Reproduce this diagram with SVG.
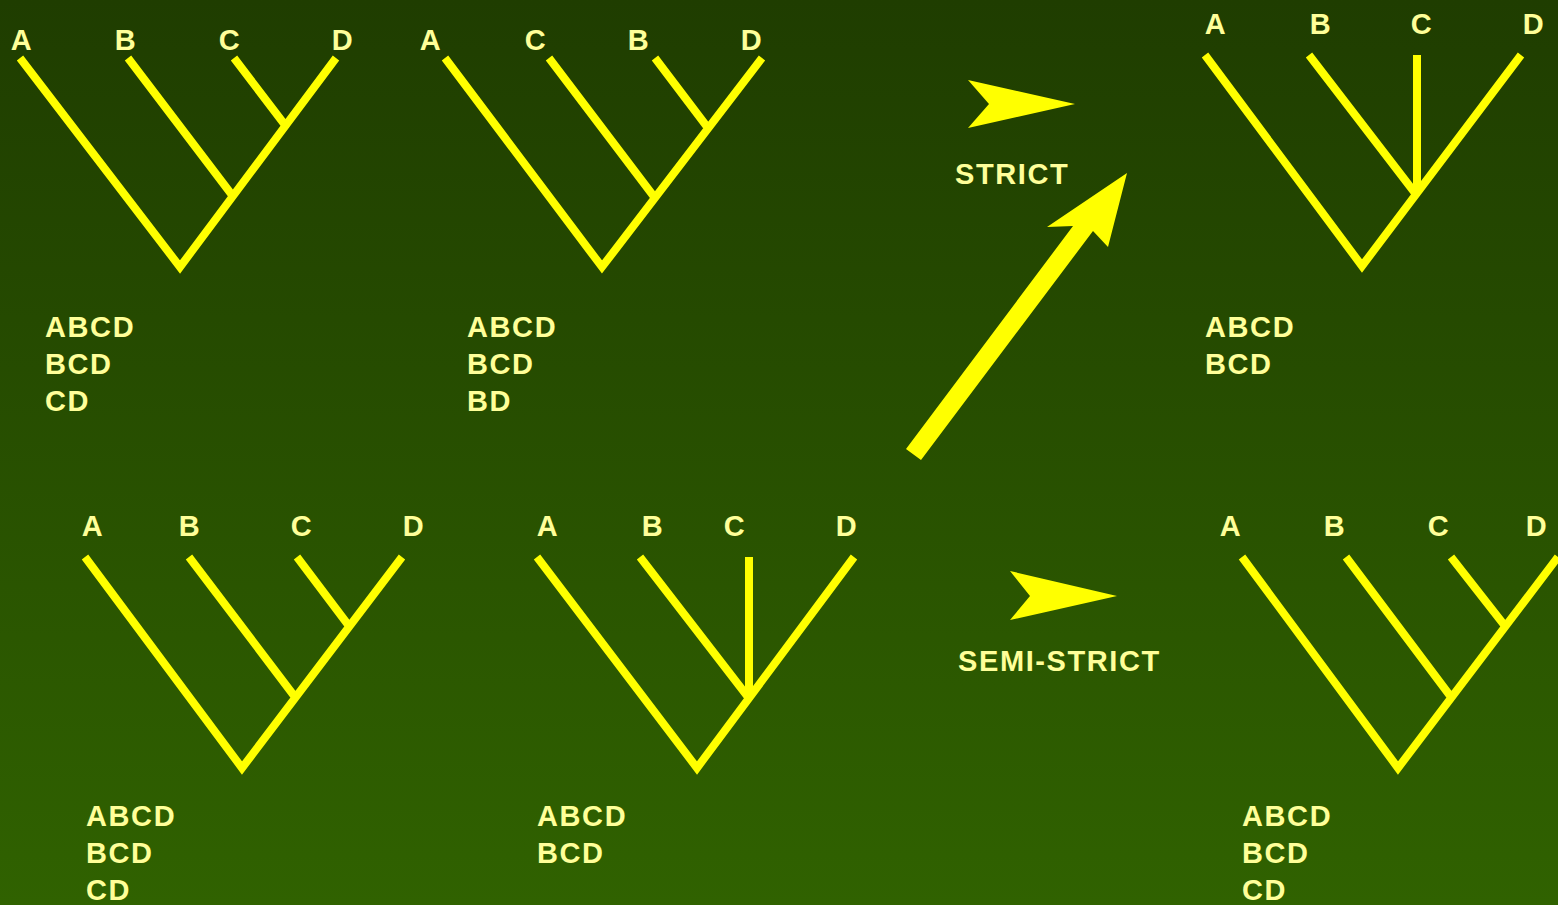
<svg xmlns="http://www.w3.org/2000/svg" width="1558" height="905" viewBox="0 0 1558 905">
  <defs>
    <linearGradient id="bg" x1="0" y1="0" x2="0" y2="1">
      <stop offset="0" stop-color="#1f3d00"/>
      <stop offset="1" stop-color="#306200"/>
    </linearGradient>
    <style>
      .br { stroke: #ffff00; stroke-width: 8; fill: none; stroke-linecap: butt; }
      .lbl { font-family: "Liberation Sans", Arial, sans-serif; font-weight: bold; font-size: 29px; letter-spacing: 1.6px; fill: #ffff99; }
      .tip { text-anchor: middle; }
      .arw { fill: #ffff00; }
    </style>
  </defs>
  <rect width="1558" height="905" fill="url(#bg)"/>

  <!-- Tree 1: ((A,(B,(C,D)))) -->
  <g id="tree1">
    <g class="lbl tip">
      <text x="22" y="50">A</text><text x="126" y="50">B</text><text x="230" y="50">C</text><text x="343" y="50">D</text>
    </g>
    <path class="br" d="M20 58 L180 267 L336 58 M128 58 L232 195 M234 58 L285 125"/>
    <g class="lbl">
      <text x="45" y="337">ABCD</text><text x="45" y="374">BCD</text><text x="45" y="411">CD</text>
    </g>
  </g>

  <!-- Tree 2: A,C,B,D -->
  <g id="tree2">
    <g class="lbl tip">
      <text x="431" y="50">A</text><text x="536" y="50">C</text><text x="639" y="50">B</text><text x="752" y="50">D</text>
    </g>
    <path class="br" d="M445 58 L602 267 L762 58 M549 58 L655 198 M655 58 L708 128"/>
    <g class="lbl">
      <text x="467" y="337">ABCD</text><text x="467" y="374">BCD</text><text x="467" y="411">BD</text>
    </g>
  </g>

  <!-- Strict consensus tree -->
  <g id="tree3">
    <g class="lbl tip">
      <text x="1216" y="34">A</text><text x="1321" y="34">B</text><text x="1422" y="34">C</text><text x="1534" y="34">D</text>
    </g>
    <path class="br" d="M1205 55 L1362 266 L1521 55 M1309 55 L1415 193 M1417 55 L1417 193"/>
    <g class="lbl">
      <text x="1205" y="337">ABCD</text><text x="1205" y="374">BCD</text>
    </g>
  </g>

  <!-- Tree 4 -->
  <g id="tree4">
    <g class="lbl tip">
      <text x="93" y="536">A</text><text x="190" y="536">B</text><text x="302" y="536">C</text><text x="414" y="536">D</text>
    </g>
    <path class="br" d="M85 557 L242 768 L402 557 M189 557 L295 697 M297 557 L349 626"/>
    <g class="lbl">
      <text x="86" y="826">ABCD</text><text x="86" y="863">BCD</text><text x="86" y="900">CD</text>
    </g>
  </g>

  <!-- Tree 5: unresolved BCD -->
  <g id="tree5">
    <g class="lbl tip">
      <text x="548" y="536">A</text><text x="653" y="536">B</text><text x="735" y="536">C</text><text x="847" y="536">D</text>
    </g>
    <path class="br" d="M537 557 L697 768 L854 557 M640 557 L748 697 M749 557 L749 697"/>
    <g class="lbl">
      <text x="537" y="826">ABCD</text><text x="537" y="863">BCD</text>
    </g>
  </g>

  <!-- Semi-strict consensus tree -->
  <g id="tree6">
    <g class="lbl tip">
      <text x="1231" y="536">A</text><text x="1335" y="536">B</text><text x="1439" y="536">C</text><text x="1537" y="536">D</text>
    </g>
    <path class="br" d="M1242 557 L1398 768 L1558 557 M1346 557 L1451 697 M1451 557 L1505 626"/>
    <g class="lbl">
      <text x="1242" y="826">ABCD</text><text x="1242" y="863">BCD</text><text x="1242" y="900">CD</text>
    </g>
  </g>

  <!-- Arrows and method labels -->
  <g id="connectors">
    <polygon class="arw" points="968,80 1075,104 968,128 989,104"/>
    <polygon class="arw" points="1010,571 1117,596 1010,620 1030,596"/>
    <polygon class="arw" points="906,449 1073,226 1047,227 1127,173 1108,247 1093,231 921,460"/>
  </g>
  <g id="strict-label"><text class="lbl" x="955" y="184">STRICT</text></g>
  <g id="semistrict-label"><text class="lbl" x="958" y="671">SEMI-STRICT</text></g>
</svg>
